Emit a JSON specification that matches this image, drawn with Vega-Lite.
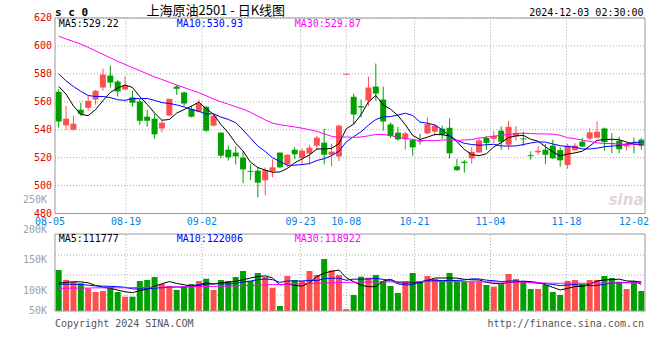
{
 "$schema": "https://vega.github.io/schema/vega-lite/v6.json",
 "width": 600,
 "height": 293,
 "autosize": {"type": "none"},
 "padding": {"left": 50, "top": 18, "right": 10, "bottom": 49},
 "background": "#ffffff",
 "config": {"view": {"stroke": null}, "text": {"font": "DejaVu Sans Mono", "fontSize": 10}},
 "datasets": {
  "k": [
   {"i":0,"o":567.1,"h":569.1,"l":541.6,"c":545.9,"d":"down","m5":571,"m10":580,"m30":607,"v":171500,"vm5":116000,"vm10":112000,"vm30":95000},
   {"i":1,"o":543.1,"h":557.1,"l":540,"c":547.9,"d":"up","m5":565.5,"m10":575,"m30":605,"v":129800,"vm5":120000,"vm10":112000,"vm30":95000},
   {"i":2,"o":540,"h":550,"l":539.3,"c":544.3,"d":"up","m5":557,"m10":571,"m30":603.2,"v":122600,"vm5":122000,"vm10":112000,"vm30":96000},
   {"i":3,"o":554.3,"h":559.3,"l":550,"c":551.4,"d":"down","m5":551,"m10":567.5,"m30":601.3,"v":115900,"vm5":122000,"vm10":111000,"vm30":96000},
   {"i":4,"o":555.7,"h":564.3,"l":553.6,"c":560.7,"d":"up","m5":550.1,"m10":564.5,"m30":599,"v":95000,"vm5":118000,"vm10":108000,"vm30":96000},
   {"i":5,"o":561.6,"h":568.6,"l":557.9,"c":567.9,"d":"up","m5":554.4,"m10":563.8,"m30":596.5,"v":79500,"vm5":107000,"vm10":105000,"vm30":97000},
   {"i":6,"o":570.2,"h":583.8,"l":567.9,"c":579.5,"d":"up","m5":560.8,"m10":563.8,"m30":594,"v":83700,"vm5":99300,"vm10":104000,"vm30":97000},
   {"i":7,"o":578.8,"h":586,"l":570.2,"c":573.8,"d":"down","m5":566.7,"m10":563,"m30":591.5,"v":100400,"vm5":94900,"vm10":103000,"vm30":97000},
   {"i":8,"o":574.5,"h":575.5,"l":563.8,"c":567.4,"d":"down","m5":569.9,"m10":561.5,"m30":589,"v":79500,"vm5":87600,"vm10":102000,"vm30":97000},
   {"i":9,"o":568.8,"h":578.1,"l":568.6,"c":571.4,"d":"up","m5":572,"m10":561,"m30":586.8,"v":59900,"vm5":80600,"vm10":99000,"vm30":97000},
   {"i":10,"o":563.1,"h":567.9,"l":556.4,"c":559.3,"d":"down","m5":570.3,"m10":562.4,"m30":584.5,"v":59900,"vm5":76700,"vm10":92600,"vm30":98000},
   {"i":11,"o":560.2,"h":561.9,"l":543.6,"c":546.4,"d":"down","m5":563.7,"m10":562.2,"m30":582.3,"v":125600,"vm5":85100,"vm10":92200,"vm30":98000},
   {"i":12,"o":549.3,"h":554.3,"l":542.1,"c":546.4,"d":"down","m5":558.2,"m10":562.4,"m30":580,"v":129800,"vm5":90900,"vm10":92900,"vm30":99000},
   {"i":13,"o":547.9,"h":551.4,"l":533.6,"c":536.7,"d":"down","m5":552,"m10":561,"m30":577.8,"v":142200,"vm5":103500,"vm10":95600,"vm30":99000},
   {"i":14,"o":540.9,"h":546.9,"l":538.1,"c":545,"d":"up","m5":546.8,"m10":559.4,"m30":576,"v":113000,"vm5":114100,"vm10":97400,"vm30":100000},
   {"i":15,"o":550.2,"h":562.1,"l":549.8,"c":562.1,"d":"up","m5":547.3,"m10":558.8,"m30":574,"v":104600,"vm5":123000,"vm10":99900,"vm30":100000},
   {"i":16,"o":570.9,"h":571.9,"l":565,"c":569.3,"d":"down","m5":551.9,"m10":557.8,"m30":572,"v":87900,"vm5":115500,"vm10":100300,"vm30":101000},
   {"i":17,"o":566.7,"h":567.4,"l":557.1,"c":558.8,"d":"down","m5":554.4,"m10":556.3,"m30":570.2,"v":101700,"vm5":109900,"vm10":100400,"vm30":101000},
   {"i":18,"o":555,"h":557.1,"l":548.8,"c":549.3,"d":"down","m5":556.9,"m10":554.5,"m30":568.3,"v":113000,"vm5":104000,"vm10":103800,"vm30":102000},
   {"i":19,"o":552.9,"h":561.4,"l":552.4,"c":558.8,"d":"up","m5":559.7,"m10":553.2,"m30":566.5,"v":125600,"vm5":106600,"vm10":110300,"vm30":102000},
   {"i":20,"o":556.4,"h":556.8,"l":538.4,"c":539.3,"d":"down","m5":555,"m10":551.2,"m30":564.3,"v":135200,"vm5":112700,"vm10":117900,"vm30":103000},
   {"i":21,"o":542.9,"h":550.7,"l":542.4,"c":550,"d":"up","m5":551.1,"m10":551.5,"m30":562,"v":87900,"vm5":112700,"vm10":114100,"vm30":103000},
   {"i":22,"o":537.9,"h":538.2,"l":519.5,"c":521.4,"d":"down","m5":543.7,"m10":549,"m30":560,"v":129800,"vm5":118300,"vm10":114100,"vm30":104000},
   {"i":23,"o":525.7,"h":528.6,"l":517.9,"c":520.2,"d":"down","m5":537.8,"m10":547.4,"m30":558.3,"v":125600,"vm5":120800,"vm10":112400,"vm30":104000},
   {"i":24,"o":523.6,"h":527.9,"l":515.2,"c":520.9,"d":"down","m5":530.3,"m10":545,"m30":556.5,"v":142200,"vm5":124100,"vm10":115400,"vm30":105000},
   {"i":25,"o":520,"h":524.3,"l":501.7,"c":511.6,"d":"down","m5":524.8,"m10":539.9,"m30":554.8,"v":167400,"vm5":130600,"vm10":121600,"vm30":106000},
   {"i":26,"o":510.5,"h":515.2,"l":503.8,"c":509.8,"d":"down","m5":516.8,"m10":534,"m30":552.5,"v":125600,"vm5":138100,"vm10":125400,"vm30":107000},
   {"i":27,"o":510.7,"h":513.1,"l":491.6,"c":502.1,"d":"down","m5":512.9,"m10":528.3,"m30":549.8,"v":159000,"vm5":144000,"vm10":131100,"vm30":108000},
   {"i":28,"o":503.8,"h":512.9,"l":493,"c":511,"d":"up","m5":511.1,"m10":524.5,"m30":547,"v":142200,"vm5":147300,"vm10":134100,"vm30":109000},
   {"i":29,"o":510.2,"h":518.8,"l":505.9,"c":513.1,"d":"up","m5":509.5,"m10":519.9,"m30":544.7,"v":97500,"vm5":138300,"vm10":131200,"vm30":111000},
   {"i":30,"o":523.6,"h":523.8,"l":512.4,"c":513.1,"d":"down","m5":509.8,"m10":517.3,"m30":543.6,"v":20900,"vm5":109000,"vm10":119800,"vm30":111000},
   {"i":31,"o":515.2,"h":522.3,"l":513.1,"c":522.1,"d":"up","m5":512.3,"m10":514.5,"m30":542.8,"v":146400,"vm5":113200,"vm10":125700,"vm30":112000},
   {"i":32,"o":525.7,"h":527.4,"l":518.8,"c":522.4,"d":"down","m5":516.3,"m10":514.6,"m30":542,"v":129800,"vm5":107400,"vm10":125700,"vm30":113000},
   {"i":33,"o":519.8,"h":526.6,"l":515.5,"c":525,"d":"up","m5":519.1,"m10":515.1,"m30":541.1,"v":125600,"vm5":104000,"vm10":125700,"vm30":114000},
   {"i":34,"o":522.9,"h":529.1,"l":515.2,"c":527.1,"d":"up","m5":521.9,"m10":515.7,"m30":540,"v":167400,"vm5":118000,"vm10":128200,"vm30":115000},
   {"i":35,"o":528.6,"h":535.7,"l":525.5,"c":534.3,"d":"up","m5":526.2,"m10":518,"m30":538.9,"v":150600,"vm5":144000,"vm10":126500,"vm30":116000},
   {"i":36,"o":530.7,"h":540.7,"l":515.2,"c":522.1,"d":"down","m5":526.2,"m10":519.2,"m30":537,"v":217600,"vm5":158200,"vm10":135700,"vm30":117000},
   {"i":37,"o":522.1,"h":530,"l":513.8,"c":524.3,"d":"up","m5":526.6,"m10":521.5,"m30":535.3,"v":169600,"vm5":166200,"vm10":136800,"vm30":118000},
   {"i":38,"o":520.9,"h":543.6,"l":517.4,"c":542.9,"d":"up","m5":530.1,"m10":524.6,"m30":534.5,"v":150600,"vm5":171200,"vm10":137600,"vm30":119000},
   {"i":39,"o":579.4,"h":580.1,"l":579.4,"c":580.1,"d":"up","m5":540.7,"m10":531.3,"m30":534.8,"v":8400,"vm5":139400,"vm10":128700,"vm30":120000},
   {"i":40,"o":563.6,"h":565.9,"l":543.8,"c":550.9,"d":"down","m5":544,"m10":535.1,"m30":534.5,"v":66900,"vm5":122600,"vm10":133300,"vm30":120000},
   {"i":41,"o":556.9,"h":561.7,"l":548.8,"c":555.9,"d":"down","m5":550.8,"m10":538.5,"m30":534.8,"v":143500,"vm5":107800,"vm10":133000,"vm30":121000},
   {"i":42,"o":560.9,"h":577.9,"l":556.9,"c":570.2,"d":"up","m5":559.9,"m10":543.3,"m30":535.6,"v":139400,"vm5":101800,"vm10":134000,"vm30":121000},
   {"i":43,"o":570.9,"h":587.4,"l":560.7,"c":565.9,"d":"down","m5":564.5,"m10":547.3,"m30":536.6,"v":150600,"vm5":101800,"vm10":136500,"vm30":122000},
   {"i":44,"o":561.6,"h":570.9,"l":539.3,"c":545.9,"d":"down","m5":557.8,"m10":549.2,"m30":536.6,"v":125600,"vm5":125200,"vm10":132300,"vm30":122000},
   {"i":45,"o":543.8,"h":545.2,"l":534.1,"c":535.7,"d":"down","m5":554.7,"m10":549.4,"m30":535.8,"v":104600,"vm5":132700,"vm10":127700,"vm30":122000},
   {"i":46,"o":537.9,"h":542.1,"l":532.1,"c":533.1,"d":"down","m5":550.2,"m10":550.5,"m30":534.6,"v":75300,"vm5":119100,"vm10":113500,"vm30":122000},
   {"i":47,"o":533.1,"h":538.6,"l":525.7,"c":537.4,"d":"up","m5":543.6,"m10":551.8,"m30":533.8,"v":125600,"vm5":116300,"vm10":109100,"vm30":122000},
   {"i":48,"o":532.6,"h":533.1,"l":521.4,"c":527.4,"d":"down","m5":535.9,"m10":550.2,"m30":533.1,"v":159000,"vm5":118000,"vm10":109900,"vm30":123000},
   {"i":49,"o":532.2,"h":537.1,"l":529.3,"c":531.5,"d":"down","m5":533,"m10":545.4,"m30":532.2,"v":125600,"vm5":118000,"vm10":121600,"vm30":123000},
   {"i":50,"o":537.4,"h":548.8,"l":536.9,"c":544,"d":"up","m5":534.7,"m10":544.7,"m30":532.4,"v":146400,"vm5":126400,"vm10":129600,"vm30":123000},
   {"i":51,"o":538.6,"h":544,"l":535.7,"c":542.9,"d":"up","m5":536.6,"m10":543.4,"m30":532.1,"v":133900,"vm5":138100,"vm10":128600,"vm30":123000},
   {"i":52,"o":540.7,"h":542.9,"l":533.4,"c":536.4,"d":"down","m5":536.4,"m10":540,"m30":532.6,"v":125600,"vm5":138100,"vm10":127200,"vm30":123000},
   {"i":53,"o":541.4,"h":548.1,"l":519.5,"c":523.1,"d":"down","m5":535.6,"m10":535.7,"m30":532.7,"v":159000,"vm5":138100,"vm10":128100,"vm30":123000},
   {"i":54,"o":513.8,"h":519.1,"l":510.7,"c":511,"d":"down","m5":531.5,"m10":532.3,"m30":532.4,"v":122600,"vm5":137500,"vm10":127800,"vm30":123000},
   {"i":55,"o":517.1,"h":518.3,"l":509.3,"c":516.2,"d":"down","m5":525.9,"m10":530.3,"m30":532.6,"v":122600,"vm5":132700,"vm10":129600,"vm30":123000},
   {"i":56,"o":519.5,"h":527.4,"l":515.7,"c":524.1,"d":"up","m5":522.2,"m10":529.4,"m30":533,"v":122600,"vm5":130500,"vm10":134300,"vm30":122000},
   {"i":57,"o":523.7,"h":534,"l":523.6,"c":532.4,"d":"up","m5":521.4,"m10":528.9,"m30":534,"v":122600,"vm5":129900,"vm10":134000,"vm30":122000},
   {"i":58,"o":534.1,"h":535.5,"l":525.5,"c":530.5,"d":"down","m5":522.8,"m10":529.2,"m30":534.7,"v":108800,"vm5":119800,"vm10":129000,"vm30":122000},
   {"i":59,"o":533.5,"h":538.8,"l":530.5,"c":535.5,"d":"up","m5":527.7,"m10":529.6,"m30":535.4,"v":101700,"vm5":115700,"vm10":126600,"vm30":122000},
   {"i":60,"o":539.3,"h":542.4,"l":525.7,"c":531.4,"d":"down","m5":530.8,"m10":528.4,"m30":536,"v":111800,"vm5":113500,"vm10":123100,"vm30":121000},
   {"i":61,"o":529.3,"h":546.4,"l":525.5,"c":542.1,"d":"up","m5":534.4,"m10":528.3,"m30":536.7,"v":154800,"vm5":119900,"vm10":125200,"vm30":121000},
   {"i":62,"o":535.5,"h":542.6,"l":532.1,"c":537.8,"d":"up","m5":535.5,"m10":528.4,"m30":537.2,"v":133900,"vm5":122200,"vm10":126000,"vm30":121000},
   {"i":63,"o":533.8,"h":538.4,"l":528.3,"c":533.1,"d":"down","m5":536,"m10":529.4,"m30":537.5,"v":122600,"vm5":125000,"vm10":122400,"vm30":120000},
   {"i":64,"o":521.8,"h":524.5,"l":518.5,"c":521.1,"d":"down","m5":533.2,"m10":530.5,"m30":537.3,"v":92100,"vm5":123000,"vm10":119400,"vm30":119000},
   {"i":65,"o":523.8,"h":528.1,"l":522.1,"c":525,"d":"up","m5":531.8,"m10":531.3,"m30":537,"v":92100,"vm5":119100,"vm10":116300,"vm30":118000},
   {"i":66,"o":525.7,"h":529.8,"l":515.5,"c":522.1,"d":"down","m5":527.8,"m10":531.1,"m30":537,"v":108800,"vm5":109900,"vm10":114900,"vm30":117000},
   {"i":67,"o":528.6,"h":532.9,"l":519.1,"c":519.5,"d":"down","m5":524.2,"m10":529.8,"m30":536.8,"v":79500,"vm5":99000,"vm10":110600,"vm30":116000},
   {"i":68,"o":525.4,"h":527.5,"l":513.7,"c":518.1,"d":"down","m5":521.2,"m10":528.6,"m30":536,"v":66900,"vm5":87900,"vm10":106400,"vm30":116000},
   {"i":69,"o":514.8,"h":530,"l":512.1,"c":528.6,"d":"up","m5":522.6,"m10":527.9,"m30":534.3,"v":125600,"vm5":94600,"vm10":108800,"vm30":116000},
   {"i":70,"o":525.3,"h":530.5,"l":525,"c":528.6,"d":"up","m5":523.4,"m10":527.6,"m30":533.6,"v":129800,"vm5":102100,"vm10":110600,"vm30":116000},
   {"i":71,"o":531.5,"h":534.1,"l":527.5,"c":528,"d":"down","m5":524.6,"m10":526.2,"m30":532.6,"v":113000,"vm5":103000,"vm10":106400,"vm30":116000},
   {"i":72,"o":533.6,"h":541,"l":532.3,"c":538.1,"d":"up","m5":528.3,"m10":526.2,"m30":531.6,"v":129800,"vm5":113000,"vm10":106000,"vm30":116000},
   {"i":73,"o":534.3,"h":546,"l":533.9,"c":538.6,"d":"up","m5":532.4,"m10":526.8,"m30":530.6,"v":129800,"vm5":125600,"vm10":106700,"vm30":117000},
   {"i":74,"o":540.9,"h":541.6,"l":525,"c":531.2,"d":"down","m5":532.9,"m10":527.8,"m30":530.2,"v":146400,"vm5":129800,"vm10":112200,"vm30":117000},
   {"i":75,"o":530.5,"h":537.6,"l":523.3,"c":529.8,"d":"down","m5":533.2,"m10":528.3,"m30":530,"v":138100,"vm5":131400,"vm10":116800,"vm30":117000},
   {"i":76,"o":532.1,"h":535,"l":523.1,"c":526,"d":"down","m5":532.8,"m10":528.7,"m30":529.7,"v":122600,"vm5":133300,"vm10":118200,"vm30":118000},
   {"i":77,"o":528,"h":530.9,"l":525,"c":530,"d":"up","m5":531.2,"m10":529.7,"m30":529.5,"v":92100,"vm5":125800,"vm10":119400,"vm30":118000},
   {"i":78,"o":530.9,"h":534.5,"l":523.1,"c":530.2,"d":"down","m5":529.5,"m10":531,"m30":529.6,"v":122600,"vm5":124400,"vm10":125000,"vm30":118500},
   {"i":79,"o":532.9,"h":534.1,"l":525.7,"c":528.6,"d":"down","m5":529.22,"m10":530.93,"m30":529.87,"v":83700,"vm5":111777,"vm10":122006,"vm30":118922}
  ],
  "grid": [
   {"g":0,"t":"08-05"},{"g":10,"t":"08-19"},{"g":20,"t":"09-02"},{"g":33,"t":"09-23"},{"g":39,"t":"10-08"},
   {"g":48,"t":"10-21"},{"g":58,"t":"11-04"},{"g":68,"t":"11-18"},{"g":78,"t":"12-02"}
  ],
  "plab": [{"p":480},{"p":500},{"p":520},{"p":540},{"p":560},{"p":580},{"p":600},{"p":620}],
  "hgrid": [{"gv":234300},{"gv":150600},{"gv":66900}],
  "vlab": [
   {"v":50000,"t":"50K"},{"v":100000,"t":"100K"},{"v":150000,"t":"150K"},{"v":200000,"t":"200K"},{"v":250000,"t":"250K"}
  ]
 },
 "layer": [
  {
   "data": {"name": "grid"},
   "layer": [
    {
     "transform": [{"filter": "datum.g > 0 && datum.g < 78"}],
     "mark": {"type": "rule", "color": "#aaaaaa", "strokeDash": [1, 2], "strokeWidth": 1},
     "encoding": {
      "x": {"field": "g", "type": "quantitative", "scale": {"domain": [0, 79], "nice": false, "zero": false}, "axis": null},
      "y": {"datum": 480, "type": "quantitative", "scale": {"domain": [410.2, 620], "nice": false, "zero": false}, "axis": null},
      "y2": {"datum": 620}
     }
    },
    {
     "transform": [{"filter": "datum.g < 78"}],
     "mark": {"type": "text", "color": "#0a7fe0", "baseline": "middle", "align": "center", "dy": 8, "fontSize": 10},
     "encoding": {
      "x": {"field": "g", "type": "quantitative", "axis": null},
      "y": {"datum": 480, "type": "quantitative", "axis": null},
      "text": {"field": "t"}
     }
    },
    {
     "transform": [{"filter": "datum.g == 78"}],
     "mark": {"type": "text", "color": "#0a7fe0", "baseline": "middle", "align": "right", "dy": 8, "dx": -1, "fontSize": 10},
     "encoding": {
      "x": {"datum": 79, "type": "quantitative", "axis": null},
      "y": {"datum": 480, "type": "quantitative", "axis": null},
      "text": {"field": "t"}
     }
    }
   ]
  },
  {
   "data": {"name": "grid"},
   "transform": [{"filter": "datum.g > 0 && datum.g < 78"}],
   "mark": {"type": "rule", "color": "#aaaaaa", "strokeDash": [1, 2], "strokeWidth": 1},
   "encoding": {
    "x": {"field": "g", "type": "quantitative", "scale": {"domain": [0, 79], "nice": false, "zero": false}, "axis": null},
    "y": {"datum": 0, "type": "quantitative", "scale": {"domain": [0, 1226000], "nice": false, "zero": false}, "axis": null},
    "y2": {"datum": 322000}
   }
  },
  {
   "data": {"name": "k"},
   "layer": [
    {
     "data": {"name": "plab"},
     "mark": {"type": "rule", "color": "#aaaaaa", "strokeDash": [1, 2], "strokeWidth": 1},
     "encoding": {
      "x": {"datum": -0.5, "type": "quantitative", "scale": {"domain": [-0.5, 79.5], "nice": false, "zero": false}, "axis": null},
      "x2": {"datum": 79.5},
      "y": {"field": "p", "type": "quantitative", "scale": {"domain": [410.2, 620], "nice": false, "zero": false}, "axis": null}
     }
    },
    {
     "data": {"name": "plab"},
     "mark": {"type": "text", "align": "right", "baseline": "middle", "dx": -3, "color": "#e00000"},
     "encoding": {
      "x": {"datum": -0.5, "type": "quantitative", "axis": null},
      "y": {"field": "p", "type": "quantitative", "axis": null},
      "text": {"field": "p", "type": "quantitative", "format": "d"}
     }
    },
    {
     "mark": {"type": "rule", "strokeWidth": 1},
     "encoding": {
      "x": {"field": "i", "type": "quantitative", "axis": null},
      "y": {"field": "l", "type": "quantitative", "axis": null},
      "y2": {"field": "h"},
      "color": {"field": "d", "type": "nominal", "scale": {"domain": ["up", "down"], "range": ["#ff5050", "#00a000"]}, "legend": null}
     }
    },
    {
     "mark": {"type": "bar", "width": 6},
     "encoding": {
      "x": {"field": "i", "type": "quantitative", "axis": null},
      "y": {"field": "o", "type": "quantitative", "axis": null},
      "y2": {"field": "c"},
      "color": {"field": "d", "type": "nominal", "legend": null}
     }
    },
    {
     "mark": {"type": "line", "color": "#000000", "strokeWidth": 1},
     "encoding": {"x": {"field": "i", "type": "quantitative", "axis": null}, "y": {"field": "m5", "type": "quantitative", "axis": null}}
    },
    {
     "mark": {"type": "line", "color": "#0000ff", "strokeWidth": 1},
     "encoding": {"x": {"field": "i", "type": "quantitative", "axis": null}, "y": {"field": "m10", "type": "quantitative", "axis": null}}
    },
    {
     "mark": {"type": "line", "color": "#ff00ff", "strokeWidth": 1},
     "encoding": {"x": {"field": "i", "type": "quantitative", "axis": null}, "y": {"field": "m30", "type": "quantitative", "axis": null}}
    },
    {
     "data": {"values": [{}]},
     "mark": {"type": "rect", "filled": false, "color": "#999999", "strokeWidth": 1},
     "encoding": {
      "x": {"datum": -0.5, "type": "quantitative", "axis": null}, "x2": {"datum": 79.5},
      "y": {"datum": 480, "type": "quantitative", "axis": null}, "y2": {"datum": 620}
     }
    },
    {
     "data": {"values": [{}]},
     "mark": {"type": "text", "align": "left", "baseline": "alphabetic", "dy": -2, "fontSize": 11, "fontWeight": "bold", "color": "#000000"},
     "encoding": {"x": {"datum": -0.5, "type": "quantitative", "axis": null}, "y": {"datum": 620, "type": "quantitative", "axis": null}, "text": {"value": "s c 0"}}
    },
    {
     "data": {"values": [{}]},
     "mark": {"type": "text", "align": "center", "baseline": "alphabetic", "dy": -3, "font": "Noto Sans CJK SC", "fontSize": 13, "color": "#000000"},
     "encoding": {"x": {"datum": 21.3, "type": "quantitative", "axis": null}, "y": {"datum": 620, "type": "quantitative", "axis": null}, "text": {"value": "上海原油2501  -  日K线图"}}
    },
    {
     "data": {"values": [{}]},
     "mark": {"type": "text", "align": "right", "baseline": "alphabetic", "dy": -2.3, "color": "#000000"},
     "encoding": {"x": {"datum": 79.3, "type": "quantitative", "axis": null}, "y": {"datum": 620, "type": "quantitative", "axis": null}, "text": {"value": "2024-12-03 02:30:00"}}
    },
    {
     "data": {"values": [{}]},
     "mark": {"type": "text", "align": "left", "baseline": "alphabetic", "dy": 9.3, "color": "#000000"},
     "encoding": {"x": {"datum": 0, "type": "quantitative", "axis": null}, "y": {"datum": 620, "type": "quantitative", "axis": null}, "text": {"value": "MA5:529.22"}}
    },
    {
     "data": {"values": [{}]},
     "mark": {"type": "text", "align": "left", "baseline": "alphabetic", "dy": 9.3, "color": "#0000ff"},
     "encoding": {"x": {"datum": 16, "type": "quantitative", "axis": null}, "y": {"datum": 620, "type": "quantitative", "axis": null}, "text": {"value": "MA10:530.93"}}
    },
    {
     "data": {"values": [{}]},
     "mark": {"type": "text", "align": "left", "baseline": "alphabetic", "dy": 9.3, "color": "#ff00ff"},
     "encoding": {"x": {"datum": 32, "type": "quantitative", "axis": null}, "y": {"datum": 620, "type": "quantitative", "axis": null}, "text": {"value": "MA30:529.87"}}
    },
    {
     "data": {"values": [{}]},
     "mark": {"type": "text", "align": "right", "baseline": "alphabetic", "dy": -9, "font": "DejaVu Sans", "fontStyle": "italic", "fontWeight": "bold", "fontSize": 15, "color": "#e2d6d6"},
     "encoding": {"x": {"datum": 79.3, "type": "quantitative", "axis": null}, "y": {"datum": 480, "type": "quantitative", "axis": null}, "text": {"value": "sina"}}
    }
   ]
  },
  {
   "data": {"name": "k"},
   "layer": [
    {
     "data": {"name": "hgrid"},
     "mark": {"type": "rule", "color": "#aaaaaa", "strokeDash": [1, 2], "strokeWidth": 1},
     "encoding": {
      "x": {"datum": -0.5, "type": "quantitative", "scale": {"domain": [-0.5, 79.5], "nice": false, "zero": false}, "axis": null},
      "x2": {"datum": 79.5},
      "y": {"field": "gv", "type": "quantitative", "scale": {"domain": [0, 1226000], "nice": false, "zero": false}, "axis": null}
     }
    },
    {
     "mark": {"type": "bar", "width": 6},
     "encoding": {
      "x": {"field": "i", "type": "quantitative", "axis": null},
      "y": {"field": "v", "type": "quantitative", "axis": null},
      "color": {"field": "d", "type": "nominal", "scale": {"domain": ["up", "down"], "range": ["#ff5050", "#00a000"]}, "legend": null}
     }
    },
    {
     "mark": {"type": "line", "color": "#000000", "strokeWidth": 1},
     "encoding": {"x": {"field": "i", "type": "quantitative", "axis": null}, "y": {"field": "vm5", "type": "quantitative", "axis": null}}
    },
    {
     "mark": {"type": "line", "color": "#0000ff", "strokeWidth": 1},
     "encoding": {"x": {"field": "i", "type": "quantitative", "axis": null}, "y": {"field": "vm10", "type": "quantitative", "axis": null}}
    },
    {
     "mark": {"type": "line", "color": "#ff00ff", "strokeWidth": 1},
     "encoding": {"x": {"field": "i", "type": "quantitative", "axis": null}, "y": {"field": "vm30", "type": "quantitative", "axis": null}}
    },
    {
     "data": {"values": [{}]},
     "mark": {"type": "rect", "filled": false, "color": "#999999", "strokeWidth": 1},
     "encoding": {
      "x": {"datum": -0.5, "type": "quantitative", "axis": null}, "x2": {"datum": 79.5},
      "y": {"datum": 0, "type": "quantitative", "axis": null}, "y2": {"datum": 322000}
     }
    },
    {
     "data": {"values": [{}]},
     "mark": {"type": "text", "align": "left", "baseline": "alphabetic", "dy": 8.3, "color": "#000000"},
     "encoding": {"x": {"datum": 0, "type": "quantitative", "axis": null}, "y": {"datum": 322000, "type": "quantitative", "axis": null}, "text": {"value": "MA5:111777"}}
    },
    {
     "data": {"values": [{}]},
     "mark": {"type": "text", "align": "left", "baseline": "alphabetic", "dy": 8.3, "color": "#0000ff"},
     "encoding": {"x": {"datum": 16, "type": "quantitative", "axis": null}, "y": {"datum": 322000, "type": "quantitative", "axis": null}, "text": {"value": "MA10:122006"}}
    },
    {
     "data": {"values": [{}]},
     "mark": {"type": "text", "align": "left", "baseline": "alphabetic", "dy": 8.3, "color": "#ff00ff"},
     "encoding": {"x": {"datum": 32, "type": "quantitative", "axis": null}, "y": {"datum": 322000, "type": "quantitative", "axis": null}, "text": {"value": "MA30:118922"}}
    },
    {
     "data": {"values": [{}]},
     "mark": {"type": "text", "align": "left", "baseline": "alphabetic", "dy": 16, "color": "#555555"},
     "encoding": {"x": {"datum": -0.5, "type": "quantitative", "axis": null}, "y": {"datum": 0, "type": "quantitative", "axis": null}, "text": {"value": "Copyright 2024 SINA.COM"}}
    },
    {
     "data": {"values": [{}]},
     "mark": {"type": "text", "align": "right", "baseline": "alphabetic", "dy": 16, "dx": -1, "color": "#555555"},
     "encoding": {"x": {"datum": 79.5, "type": "quantitative", "axis": null}, "y": {"datum": 0, "type": "quantitative", "axis": null}, "text": {"value": "http://finance.sina.com.cn"}}
    }
   ]
  },
  {
   "data": {"name": "vlab"},
   "mark": {"type": "text", "align": "right", "baseline": "middle", "dx": -3, "color": "#a0a0a0"},
   "encoding": {
    "x": {"datum": -0.5, "type": "quantitative", "scale": {"domain": [-0.5, 79.5], "nice": false, "zero": false}, "axis": null},
    "y": {"field": "v", "type": "quantitative", "scale": {"domain": [66600, 548700], "clamp": true, "nice": false, "zero": false}, "axis": null},
    "text": {"field": "t"}
   }
  }
 ],
 "resolve": {"scale": {"x": "independent", "y": "independent"}}
}
